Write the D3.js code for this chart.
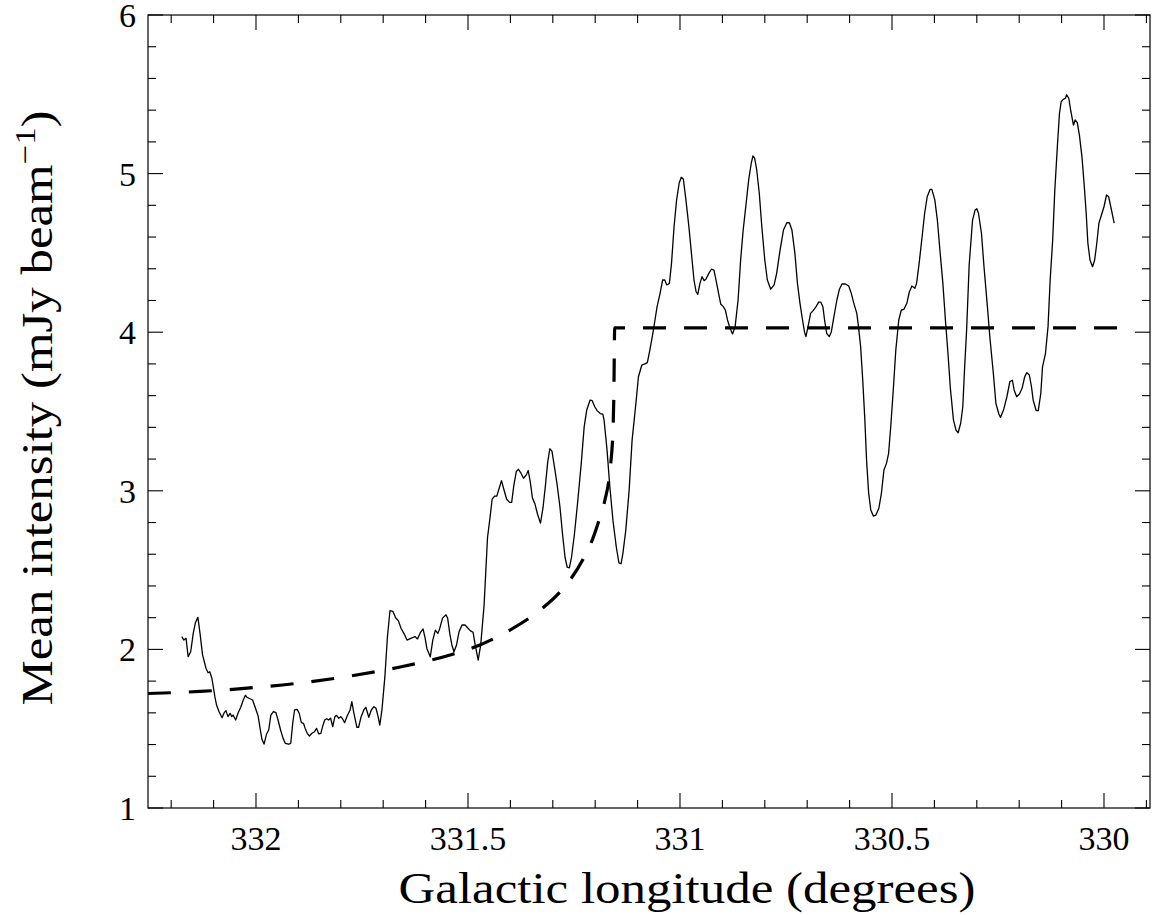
<!DOCTYPE html>
<html><head><meta charset="utf-8">
<script src="https://cdn.jsdelivr.net/npm/d3@7"></script>
<style>body{margin:0;background:#fff}svg{display:block}</style>
</head><body><svg id="c" width="1152" height="915"></svg>
<script>
const lon = [332.175,332.170,332.165,332.160,332.154,332.148,332.143,332.137,332.132,332.126,
332.118,332.113,332.109,332.104,332.097,332.093,332.087,332.080,332.075,332.071,
332.066,332.061,332.057,332.054,332.048,332.042,332.036,332.030,332.025,332.021,
332.014,332.008,332.002,331.995,331.991,331.986,331.981,331.975,331.970,331.965,
331.959,331.953,331.948,331.942,331.936,331.931,331.923,331.918,331.913,331.909,
331.903,331.898,331.893,331.888,331.884,331.879,331.874,331.868,331.862,331.857,
331.852,331.847,331.843,331.838,331.833,331.829,331.824,331.819,331.814,331.810,
331.805,331.800,331.796,331.791,331.785,331.778,331.774,331.769,331.762,331.758,
331.752,331.745,331.741,331.734,331.728,331.722,331.717,331.712,331.708,331.703,
331.696,331.690,331.684,331.677,331.671,331.664,331.658,331.650,331.644,331.635,
331.625,331.619,331.612,331.606,331.601,331.597,331.589,331.583,331.577,331.571,
331.567,331.560,331.552,331.548,331.543,331.538,331.533,331.527,331.521,331.514,
331.507,331.500,331.494,331.488,331.483,331.476,331.470,331.462,331.454,331.448,
331.443,331.437,331.432,331.427,331.421,331.415,331.409,331.402,331.397,331.392,
331.386,331.381,331.375,331.369,331.362,331.358,331.353,331.348,331.342,331.336,
331.329,331.323,331.317,331.312,331.307,331.302,331.296,331.290,331.283,331.277,
331.271,331.266,331.261,331.256,331.249,331.241,331.233,331.226,331.220,331.212,
331.207,331.201,331.195,331.188,331.182,331.179,331.172,331.166,331.158,331.150,
331.144,331.139,331.135,331.128,331.120,331.113,331.104,331.098,331.090,331.083,
331.077,331.071,331.064,331.059,331.054,331.047,331.041,331.036,331.031,331.025,
331.020,331.014,331.008,331.002,330.997,330.992,330.986,330.979,330.973,330.967,
330.962,330.958,330.953,330.948,330.943,330.939,330.932,330.926,330.920,330.915,
330.909,330.904,330.898,330.893,330.888,330.882,330.876,330.870,330.863,330.857,
330.851,330.844,330.838,330.832,330.828,330.824,330.819,330.813,330.807,330.800,
330.794,330.786,330.778,330.772,330.764,330.756,330.748,330.742,330.736,330.729,
330.723,330.717,330.711,330.706,330.703,330.698,330.692,330.686,330.679,330.673,
330.668,330.663,330.659,330.654,330.648,330.643,330.637,330.630,330.624,330.618,
330.610,330.602,330.596,330.590,330.583,330.579,330.574,330.569,330.564,330.560,
330.555,330.550,330.544,330.538,330.531,330.525,330.519,330.513,330.508,330.503,
330.497,330.491,330.484,330.478,330.472,330.465,330.459,330.453,330.446,330.442,
330.436,330.429,330.423,330.417,330.410,330.406,330.399,330.393,330.387,330.380,
330.374,330.368,330.362,330.355,330.349,330.344,330.338,330.333,330.329,330.324,
330.318,330.310,330.304,330.300,330.296,330.289,330.283,330.275,330.269,330.261,
330.255,330.248,330.244,330.237,330.229,330.222,330.216,330.212,330.206,330.199,
330.193,330.187,330.182,330.176,330.171,330.167,330.160,330.155,330.149,330.145,
330.138,330.132,330.127,330.121,330.116,330.110,330.105,330.101,330.096,330.091,
330.088,330.083,330.078,330.072,330.068,330.063,330.058,330.052,330.047,330.042,
330.038,330.033,330.027,330.022,330.017,330.012,330.006,330.000,329.994,329.989,
329.984,329.976];

const intensity = [2.080,2.059,2.070,1.954,1.985,2.101,2.168,2.202,2.101,1.965,
1.881,1.853,1.859,1.818,1.702,1.649,1.607,1.569,1.601,1.614,
1.576,1.597,1.576,1.586,1.555,1.601,1.635,1.681,1.711,1.698,
1.689,1.681,1.635,1.580,1.513,1.433,1.403,1.467,1.492,1.586,
1.607,1.601,1.555,1.492,1.439,1.408,1.402,1.408,1.544,1.618,
1.622,1.597,1.538,1.534,1.502,1.471,1.454,1.471,1.481,1.502,
1.467,1.471,1.513,1.555,1.563,1.555,1.566,1.513,1.576,1.584,
1.566,1.576,1.563,1.538,1.580,1.618,1.670,1.597,1.509,1.509,
1.576,1.622,1.635,1.572,1.618,1.639,1.629,1.576,1.523,1.618,
1.828,2.080,2.244,2.239,2.201,2.180,2.133,2.095,2.059,2.070,
2.081,2.066,2.108,2.129,2.070,2.006,1.953,2.059,2.122,2.101,
2.129,2.197,2.218,2.197,2.101,2.028,1.985,2.028,2.112,2.154,
2.154,2.133,2.117,2.108,2.028,1.933,2.028,2.281,2.704,2.832,
2.948,2.967,2.967,3.011,3.064,3.005,2.948,2.927,2.927,3.033,
3.122,3.136,3.111,3.079,3.102,3.128,3.054,2.955,2.916,2.852,
2.796,2.895,3.043,3.181,3.265,3.250,3.149,3.043,2.895,2.726,
2.578,2.518,2.514,2.578,2.726,2.938,3.170,3.403,3.509,3.572,
3.568,3.530,3.504,3.487,3.483,3.445,3.255,3.043,2.810,2.641,
2.546,2.540,2.599,2.747,3.001,3.318,3.551,3.719,3.793,3.800,
3.808,3.888,3.993,4.077,4.161,4.245,4.329,4.329,4.298,4.308,
4.434,4.665,4.834,4.939,4.977,4.964,4.834,4.665,4.497,4.329,
4.255,4.239,4.308,4.350,4.325,4.334,4.371,4.397,4.392,4.329,
4.245,4.178,4.161,4.140,4.077,4.025,3.989,4.035,4.203,4.455,
4.644,4.813,4.960,5.065,5.111,5.098,5.023,4.876,4.665,4.455,
4.329,4.271,4.298,4.371,4.518,4.644,4.690,4.690,4.644,4.497,
4.308,4.182,4.077,3.997,3.972,4.035,4.119,4.136,4.161,4.190,
4.190,4.161,4.077,3.993,3.972,4.003,4.098,4.203,4.271,4.304,
4.304,4.291,4.245,4.182,4.119,4.035,3.909,3.699,3.446,3.194,
2.984,2.879,2.841,2.847,2.890,2.984,3.131,3.173,3.236,3.404,
3.636,3.888,4.077,4.140,4.144,4.182,4.255,4.291,4.277,4.308,
4.434,4.602,4.750,4.854,4.901,4.901,4.834,4.707,4.518,4.308,
4.077,3.867,3.636,3.446,3.383,3.366,3.426,3.530,3.762,4.014,
4.424,4.707,4.771,4.779,4.750,4.624,4.413,4.161,3.963,3.741,
3.552,3.484,3.463,3.509,3.593,3.688,3.697,3.636,3.593,3.612,
3.648,3.719,3.745,3.730,3.656,3.572,3.506,3.506,3.615,3.782,
3.867,4.035,4.329,4.581,4.897,5.170,5.380,5.453,5.468,5.475,
5.497,5.475,5.390,5.306,5.338,5.321,5.243,5.107,4.939,4.750,
4.561,4.455,4.413,4.455,4.561,4.687,4.739,4.791,4.865,4.854,
4.791,4.687];

const modelLon = [332.255,332.132,332.014,331.896,331.778,331.660,331.542,331.472,331.401,331.330,
331.283,331.256,331.229,331.208,331.189,331.177,331.165,331.158,331.156,331.154,329.936];
const modelVal = [1.722,1.735,1.757,1.788,1.832,1.889,1.965,2.028,2.122,2.248,
2.362,2.450,2.567,2.683,2.832,2.942,3.131,3.383,3.604,4.027,4.027];

const xTicks = [332, 331.5, 331, 330.5, 330];
const xTickLabels = ["332", "331.5", "331", "330.5", "330"];
const yTicks = [1, 2, 3, 4, 5, 6];
const yTickLabels = ["1", "2", "3", "4", "5", "6"];
const xTitle = "Galactic longitude (degrees)";
const yTitleMain = "Mean intensity (mJy beam";
const yTitleSup = "\u22121";

const L = 148, R = 1150, T = 15, B = 808;
const x = d3.scaleLinear().domain([332.2547, 329.8915]).range([L, R]);
const y = d3.scaleLinear().domain([1, 6]).range([B, T]);

const svg = d3.select("#c");
const font = "'Liberation Serif', 'DejaVu Serif', serif";

// frame
svg.append("rect").attr("x", L).attr("y", T).attr("width", R - L).attr("height", B - T)
  .attr("fill", "none").attr("stroke", "#000").attr("stroke-width", 1.2);

// ticks
const xMinor = d3.range(3299, 3323).map(d => d / 10).filter(d => !xTicks.some(t => Math.abs(t - d) < 1e-6));
const yMinor = d3.range(5, 31).map(d => d / 5).filter(d => !yTicks.some(t => Math.abs(t - d) < 1e-6));
const g = svg.append("g").attr("stroke", "#000").attr("stroke-width", 1.1);
function xt(vals, len) {
  vals.forEach(v => {
    const px = x(v);
    g.append("line").attr("x1", px).attr("x2", px).attr("y1", B).attr("y2", B - len);
    g.append("line").attr("x1", px).attr("x2", px).attr("y1", T).attr("y2", T + len);
  });
}
function yt(vals, len) {
  vals.forEach(v => {
    const py = y(v);
    g.append("line").attr("x1", L).attr("x2", L + len).attr("y1", py).attr("y2", py);
    g.append("line").attr("x1", R).attr("x2", R - len).attr("y1", py).attr("y2", py);
  });
}
xt(xTicks, 15); xt(xMinor, 8);
yt(yTicks, 15); yt(yMinor, 8);

// tick labels
svg.append("g").selectAll("text").data(xTicks).join("text")
  .attr("x", d => x(d)).attr("y", 850)
  .attr("text-anchor", "middle").attr("font-family", font).attr("font-size", 34)
  .text((d, i) => xTickLabels[i]);
svg.append("g").selectAll("text").data(yTicks).join("text")
  .attr("x", 136).attr("y", d => y(d) + 12)
  .attr("text-anchor", "end").attr("font-family", font).attr("font-size", 34)
  .text((d, i) => yTickLabels[i]);

// titles
svg.append("text").attr("x", 687).attr("y", 903).attr("text-anchor", "middle")
  .attr("font-family", font).attr("font-size", 44)
  .attr("textLength", 577).attr("lengthAdjust", "spacingAndGlyphs")
  .text(xTitle);

const yt2 = svg.append("text").attr("transform", "translate(52,408) rotate(-90)")
  .attr("text-anchor", "middle").attr("font-family", font).attr("font-size", 44)
  .attr("textLength", 595).attr("lengthAdjust", "spacingAndGlyphs");
yt2.append("tspan").text(yTitleMain);
yt2.append("tspan").attr("dy", -17).attr("font-size", 30).text(yTitleSup);
yt2.append("tspan").attr("dy", 17).text(")");

// data
const obs = lon.map((d, i) => [d, intensity[i]]);
const model = modelLon.map((d, i) => [d, modelVal[i]]);
const clip = svg.append("clipPath").attr("id", "cp").append("rect")
  .attr("x", L).attr("y", T).attr("width", R - L).attr("height", B - T);

svg.append("path").datum(model).attr("clip-path", "url(#cp)")
  .attr("d", d3.line().x(d => x(d[0])).y(d => y(d[1])).curve(d3.curveMonotoneX))
  .attr("fill", "none").attr("stroke", "#000").attr("stroke-width", 3.2)
  .attr("stroke-dasharray", "23,18");

svg.append("path").datum(obs)
  .attr("d", d3.line().x(d => x(d[0])).y(d => y(d[1])))
  .attr("fill", "none").attr("stroke", "#000").attr("stroke-width", 1.3)
  .attr("stroke-linejoin", "round");
</script></body></html>
